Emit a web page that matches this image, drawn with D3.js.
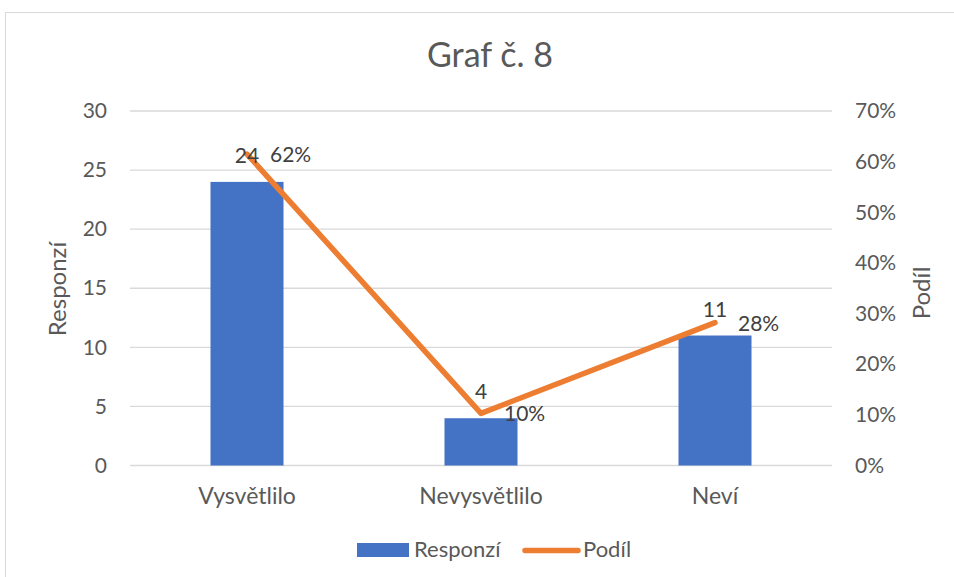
<!DOCTYPE html>
<html>
<head>
<meta charset="utf-8">
<script src="https://cdn.jsdelivr.net/npm/d3@7"></script>
<style>
  body { margin: 0; background: #fff; }
  text { font-family: Lato, "Open Sans", sans-serif; fill: #595959; }
</style>
</head>
<body>
<div id="chart"></div>
<script>
const categories = ["Vysvětlilo", "Nevysvětlilo", "Neví"];
const responses = [24, 4, 11];
const shares = [0.615, 0.103, 0.282];
const shareLabels = ["62%", "10%", "28%"];
const leftTicks = [0, 5, 10, 15, 20, 25, 30];
const rightTicks = [0, 0.1, 0.2, 0.3, 0.4, 0.5, 0.6, 0.7];

const W = 954, H = 577;
const plot = { left: 130, right: 832, top: 111, bottom: 465.5 };

const svg = d3.select("#chart").append("svg")
  .attr("width", W).attr("height", H);

// chart border
svg.append("rect")
  .attr("x", 5.5).attr("y", 12.5)
  .attr("width", 980).attr("height", 600)
  .attr("fill", "#fff").attr("stroke", "#d9d9d9");

const x = d3.scaleBand().domain(categories)
  .range([plot.left, plot.right])
  .paddingInner(0.688).paddingOuter(0.344);
const y = d3.scaleLinear().domain([0, 30]).range([plot.bottom, plot.top]);
const y2 = d3.scaleLinear().domain([0, 0.7]).range([plot.bottom, plot.top]);

// gridlines
svg.append("g").selectAll("line").data(leftTicks).join("line")
  .attr("x1", plot.left).attr("x2", plot.right)
  .attr("y1", d => y(d)).attr("y2", d => y(d))
  .attr("stroke", "#d9d9d9").attr("stroke-width", 1.3);

function styleAxis(g, size) {
  g.select(".domain").remove();
  g.attr("font-family", null).attr("font-size", null);
  g.selectAll("text").style("font-size", size + "px").attr("fill", "#595959");
}

// left axis
const yAxis = svg.append("g")
  .attr("transform", "translate(107,0)")
  .call(d3.axisLeft(y).tickValues(leftTicks).tickSize(0).tickPadding(0));
styleAxis(yAxis, 21);

// right axis
const y2Axis = svg.append("g")
  .attr("transform", "translate(855,0)")
  .call(d3.axisRight(y2).tickValues(rightTicks).tickSize(0).tickPadding(0).tickFormat(d3.format(".0%")));
styleAxis(y2Axis, 21);

// x axis labels
const xAxis = svg.append("g")
  .attr("transform", "translate(0,504)")
  .call(d3.axisBottom(x).tickSize(0).tickPadding(0));
styleAxis(xAxis, 23);
xAxis.selectAll("text").attr("y", 0).attr("dy", 0);

// bars
svg.append("g").selectAll("rect").data(responses).join("rect")
  .attr("x", (d, i) => x(categories[i]))
  .attr("y", d => y(d))
  .attr("width", x.bandwidth())
  .attr("height", d => y(0) - y(d))
  .attr("fill", "#4472c4");

// line
const line = d3.line()
  .x((d, i) => x(categories[i]) + x.bandwidth() / 2)
  .y(d => y2(d));
svg.append("path").datum(shares)
  .attr("d", line)
  .attr("fill", "none")
  .attr("stroke", "#ed7d31")
  .attr("stroke-width", 5.5)
  .attr("stroke-linejoin", "round")
  .attr("stroke-linecap", "round");

// bar labels
svg.append("g").selectAll("text").data(responses).join("text")
  .attr("x", (d, i) => x(categories[i]) + x.bandwidth() / 2)
  .attr("y", d => y(d) - 19)
  .attr("text-anchor", "middle")
  .style("font-size", "21px")
  .style("fill", "#404040")
  .text(d => d);

// line labels
svg.append("g").selectAll("text").data(shares).join("text")
  .attr("x", (d, i) => x(categories[i]) + x.bandwidth() / 2 + 23)
  .attr("y", d => y2(d) + 8)
  .style("font-size", "21px")
  .style("fill", "#404040")
  .text((d, i) => shareLabels[i]);

// title
svg.append("text")
  .attr("x", 490).attr("y", 67)
  .attr("text-anchor", "middle")
  .style("font-size", "34px")
  .text("Graf č. 8");

// axis titles
svg.append("text")
  .attr("transform", "translate(66,289) rotate(-90)")
  .attr("text-anchor", "middle")
  .style("font-size", "24px")
  .text("Responzí");
svg.append("text")
  .attr("transform", "translate(930,293) rotate(-90)")
  .attr("text-anchor", "middle")
  .style("font-size", "24px")
  .text("Podíl");

// legend
const legend = svg.append("g");
legend.append("rect")
  .attr("x", 357).attr("y", 543).attr("width", 52).attr("height", 14)
  .attr("fill", "#4472c4");
legend.append("text")
  .attr("x", 414).attr("y", 557)
  .style("font-size", "22px")
  .text("Responzí");
legend.append("line")
  .attr("x1", 525).attr("x2", 578).attr("y1", 550.5).attr("y2", 550.5)
  .attr("stroke", "#ed7d31").attr("stroke-width", 5.5)
  .attr("stroke-linecap", "round");
legend.append("text")
  .attr("x", 583).attr("y", 557)
  .style("font-size", "22px")
  .text("Podíl");
</script>
</body>
</html>
